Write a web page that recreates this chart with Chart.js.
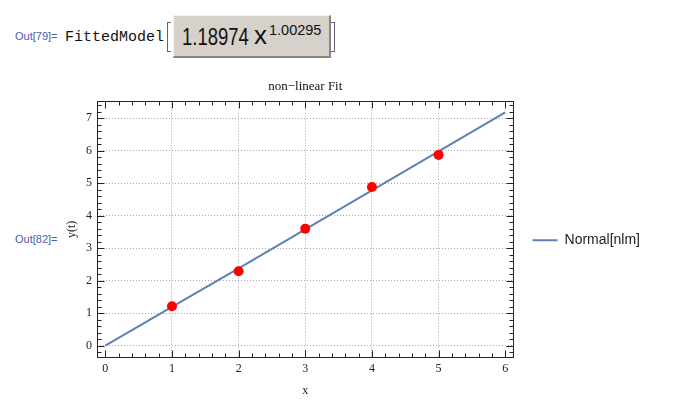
<!DOCTYPE html>
<html>
<head>
<meta charset="utf-8">
<script src="https://cdn.jsdelivr.net/npm/chart.js@4.4.0/dist/chart.umd.min.js"></script>
<style>
  body { margin: 0; background: #fff; width: 692px; height: 409px; overflow: hidden; position: relative; font-family: "Liberation Sans", Arial, sans-serif; }
  .out { position: absolute; color: #4b5cb3; font-size: 11px; }
  #nomeModelo { position: absolute; left: 65px; top: 29px; font-family: "Liberation Mono", monospace; font-size: 15px; color: #111; }
  .colchete { position: absolute; top: 22px; width: 3px; height: 28px; border: 1px solid #6a5f7a; }
  #caixa { position: absolute; left: 173px; top: 15px; width: 155px; height: 40px; background: #d6d2cb;
           border-top: 1px solid #f4f2ee; border-left: 1px solid #f4f2ee; border-right: 2px solid #8a867e; border-bottom: 2px solid #8a867e; }
  .grande { position: absolute; transform-origin: 0 0; color: #111; white-space: nowrap; }
  #grafico { position: absolute; left: 0; top: 0; }
</style>
</head>
<body>
<div class="out" style="left:15px; top:30px;">Out[79]=</div>
<div id="nomeModelo">FittedModel</div>
<div class="colchete" style="left:167px; border-right:none;"></div>
<div class="colchete" style="left:331px; border-left:none;"></div>
<div id="caixa"></div>
<div class="grande" style="left:182px; top:23px; font-size:24px; transform:scaleX(0.77);">1.18974</div>
<div class="grande" style="left:254px; top:20px; font-size:26px;">x</div>
<div class="grande" style="left:269px; top:22px; font-size:14.5px;">1.00295</div>
<div class="out" style="left:15px; top:233px;">Out[82]=</div>
<canvas id="grafico" width="692" height="409"></canvas>

<script>
// ===== dados =====
// curva ajustada 1.18974 x^1.00295 (valores lidos nos inteiros)
const xAjuste = [0, 1, 2, 3, 4, 5, 6];
const yAjuste = [0, 1.19, 2.38, 3.58, 4.78, 5.98, 7.18];

// pontos medidos (vermelhos)
const xPontos = [1, 2, 3, 4, 5];
const yPontos = [1.21, 2.29, 3.60, 4.88, 5.87];

// marcas dos eixos
const ticksX = [0, 1, 2, 3, 4, 5, 6];
const ticksY = [0, 1, 2, 3, 4, 5, 6, 7];

const corLinha = "rgb(94,129,181)";
const fonteSerif = "'Liberation Serif', 'Times New Roman', serif";

// moldura com tracinhos nos quatro lados (estilo Mathematica)
const moldura = {
  id: "moldura",
  afterDatasetsDraw(chart) {
    const { ctx, chartArea: a, scales } = chart;
    const L = Math.round(a.left) + 0.5, R = Math.round(a.right) - 0.5;
    const T = Math.round(a.top) + 0.5, B = Math.round(a.bottom) - 0.5;
    ctx.save();
    ctx.strokeStyle = "#222";
    ctx.lineWidth = 1;
    ctx.strokeRect(L, T, R - L, B - T);
    ctx.beginPath();
    // eixo x
    const sx = scales.x;
    for (let i = Math.ceil(sx.min * 5); i <= Math.floor(sx.max * 5); i++) {
      const p = Math.round(sx.getPixelForValue(i / 5)) + 0.5;
      const len = (i % 5 === 0) ? 7 : 4;
      ctx.moveTo(p, B); ctx.lineTo(p, B - len);
      ctx.moveTo(p, T); ctx.lineTo(p, T + len);
    }
    // eixo y
    const sy = scales.y;
    for (let i = Math.ceil(sy.min * 5); i <= Math.floor(sy.max * 5); i++) {
      const p = Math.round(sy.getPixelForValue(i / 5)) + 0.5;
      const len = (i % 5 === 0) ? 7 : 4;
      ctx.moveTo(L, p); ctx.lineTo(L + len, p);
      ctx.moveTo(R, p); ctx.lineTo(R - len, p);
    }
    ctx.stroke();
    ctx.restore();
  }
};

new Chart(document.getElementById("grafico"), {
  type: "scatter",
  data: {
    datasets: [
      {
        label: "Normal[nlm]",
        type: "line",
        data: xAjuste.map((x, i) => ({ x: x, y: yAjuste[i] })),
        borderColor: corLinha,
        backgroundColor: corLinha,
        borderWidth: 2,
        pointRadius: 0,
        tension: 0,
        order: 2
      },
      {
        label: "dados",
        data: xPontos.map((x, i) => ({ x: x, y: yPontos[i] })),
        backgroundColor: "#ff0000",
        borderWidth: 0,
        pointRadius: 5,
        pointHoverRadius: 5,
        order: 1
      }
    ]
  },
  options: {
    responsive: false,
    animation: false,
    events: [],
    layout: { padding: { top: 79, right: 42, bottom: 0, left: 0 } },
    plugins: {
      title: {
        display: true,
        text: "non\u2212linear Fit",
        fullSize: false,
        color: "#111",
        font: { family: fonteSerif, size: 13, weight: "normal" },
        padding: { top: 0, bottom: 6 }
      },
      legend: {
        position: "right",
        fullSize: false,
        // titulo vazio so para empurrar a legenda um pouco para baixo
        title: { display: true, text: " ", font: { size: 10 }, padding: { top: 5, bottom: 5 } },
        labels: {
          color: "#222",
          font: { family: "'Liberation Sans', Arial, sans-serif", size: 14 },
          boxWidth: 25,
          boxHeight: 2,
          padding: 19,
          filter: item => item.text === "Normal[nlm]",
          generateLabels: chart => {
            const itens = Chart.defaults.plugins.legend.labels.generateLabels(chart);
            itens.forEach(it => { it.lineWidth = 0; it.fillStyle = corLinha; });
            return itens;
          }
        }
      },
      tooltip: { enabled: false }
    },
    scales: {
      x: {
        type: "linear",
        min: -0.125,
        max: 6.125,
        afterBuildTicks: s => { s.ticks = ticksX.map(v => ({ value: v })); },
        afterFit: s => { s.height = 51; },
        grid: {
          drawTicks: false,
          color: c => (c.tick && (c.tick.value === 0 || c.tick.value === 6)) ? "rgba(0,0,0,0)" : "#a8a8a8"
        },
        border: { display: false, dash: [1, 2] },
        ticks: { color: "#222", padding: 4, font: { family: fonteSerif, size: 12 } },
        title: { display: true, text: "x", color: "#222", font: { family: fonteSerif, size: 12 }, padding: { top: 0, bottom: 11 } }
      },
      y: {
        type: "linear",
        min: -0.38,
        max: 7.54,
        afterBuildTicks: s => { s.ticks = ticksY.map(v => ({ value: v })); },
        afterFit: s => { s.width = 97; },
        grid: { drawTicks: false, color: "#a8a8a8" },
        border: { display: false, dash: [1, 2] },
        ticks: { color: "#222", padding: 5, font: { family: fonteSerif, size: 12 } },
        title: { display: true, text: "y(t)", color: "#222", font: { family: fonteSerif, size: 12 }, padding: { top: 65, bottom: 0 } }
      }
    }
  },
  plugins: [moldura]
});
</script>
</body>
</html>
